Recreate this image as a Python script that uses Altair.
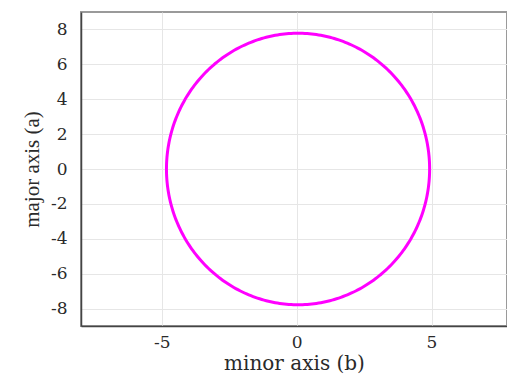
import altair as alt
import numpy as np
import pandas as pd

# values
semi_major_a = 7.78   # vertical half-axis
semi_minor_b = 4.88   # horizontal half-axis
center_xy = [0.05, 0.0]
x_ticks = [-5, 0, 5]
y_ticks = [-8, -6, -4, -2, 0, 2, 4, 6, 8]
x_domain = [-8, 7.8]
y_domain = [-9, 9]

t = np.linspace(0, 2 * np.pi, 361)
df = pd.DataFrame({
    "i": np.arange(len(t)),
    "b": center_xy[0] + semi_minor_b * np.cos(t),
    "a": center_xy[1] + semi_major_a * np.sin(t),
})

chart = alt.Chart(df).mark_line(color="#ff00ff", strokeWidth=3, clip=True).encode(
    x=alt.X("b:Q",
            scale=alt.Scale(domain=x_domain, nice=False, zero=False),
            axis=alt.Axis(values=x_ticks, title="minor axis (b)",
                          labelExpr="datum.value + ''",
                          titleFont="DejaVu Serif", titleFontSize=20,
                          labelPadding=8, titlePadding=3)),
    y=alt.Y("a:Q",
            scale=alt.Scale(domain=y_domain, nice=False, zero=False),
            axis=alt.Axis(values=y_ticks, title="major axis (a)",
                          labelExpr="datum.value + ''",
                          titleFont="Liberation Serif", titleFontSize=21,
                          labelPadding=14, titlePadding=8)),
    order="i:Q",
).properties(
    width=426, height=314,
    autosize=alt.AutoSizeParams(type="none"),
    padding={"left": 73, "top": 4, "right": 0, "bottom": 53},
).configure_view(
    stroke="#9a9a9a", strokeWidth=2
).configure_axis(
    labelFont="DejaVu Serif",
    labelFontSize=17,
    labelColor="#2a2a2a", titleColor="#2a2a2a",
    titleFontWeight="normal",
    tickSize=0,
    domainColor="#444444", domainWidth=1.5,
    gridColor="#e6e6e6", gridWidth=1,
)

chart.save("out.html", embed_options={"renderer": "svg", "actions": False})
